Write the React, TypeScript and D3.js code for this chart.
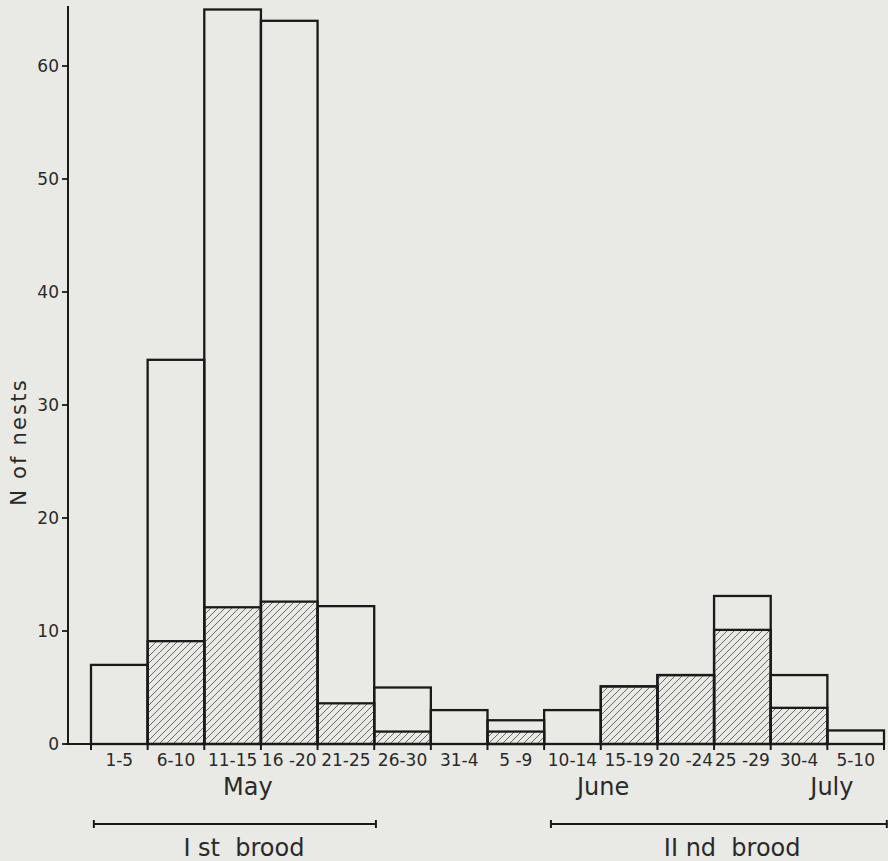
import React, { useEffect, useRef } from 'react';
import * as d3 from 'd3';

// five-day periods, May to July
const periods = ['1-5', '6-10', '11-15', '16 -20', '21-25', '26-30', '31-4', '5 -9', '10-14', '15-19', '20 -24', '25 -29', '30-4', '5-10'];
// all nests per period (open bar)
const totalNests = [7, 34, 65, 64, 12.2, 5, 3, 2.1, 3, 5.1, 6.1, 13.1, 6.1, 1.2];
// hatched part of each bar
const hatchedNests = [0, 9.1, 12.1, 12.6, 3.6, 1.1, 0, 1.1, 0, 5.1, 6.1, 10.1, 3.2, 0];

const yTicks = [0, 10, 20, 30, 40, 50, 60];

// month labels, position in period units from the left edge of the first bar
const months = [
  { label: 'May', at: 2.77 },
  { label: 'June', at: 9.04 },
  { label: 'July', at: 13.08 },
];

// brood spans, in period units
const broods = [
  { label: 'I st  brood', from: 0.05, to: 5.03, at: 2.7 },
  { label: 'II nd  brood', from: 8.12, to: 14.05, at: 11.32 },
];

const W = 888;
const H = 861;
const ink = '#1a1a1a';
const font = '"DejaVu Sans", sans-serif';

export default function App() {
  const ref = useRef<SVGSVGElement>(null);

  useEffect(() => {
    const svg = d3.select(ref.current);
    svg.selectAll('*').remove();

    const left = 91, right = 884, base = 744, top60 = 66, axisX = 68;

    const x = d3.scaleBand<string>().domain(periods).range([left, right]).padding(0);
    const xPos = d3.scaleLinear().domain([0, periods.length]).range([left, right]);
    const y = d3.scaleLinear().domain([0, 60]).range([base, top60]);

    svg.append('rect').attr('width', W).attr('height', H).attr('fill', '#e9e9e6');

    const defs = svg.append('defs');
    const pat = defs.append('pattern')
      .attr('id', 'hatch')
      .attr('patternUnits', 'userSpaceOnUse')
      .attr('width', 7)
      .attr('height', 7);
    pat.append('path')
      .attr('d', 'M-1,1 l2,-2 M0,7 l7,-7 M6,8 l2,-2')
      .attr('stroke', '#595959')
      .attr('stroke-width', 0.9);

    // y axis
    const g = svg.append('g');
    g.append('line')
      .attr('x1', axisX).attr('x2', axisX)
      .attr('y1', y(0)).attr('y2', y(65.3))
      .attr('stroke', ink).attr('stroke-width', 2);
    g.selectAll('.yt').data(yTicks).enter().append('line')
      .attr('x1', axisX - 6).attr('x2', axisX)
      .attr('y1', d => y(d)).attr('y2', d => y(d))
      .attr('stroke', ink).attr('stroke-width', 1.8);
    g.selectAll('.yl').data(yTicks).enter().append('text')
      .attr('x', axisX - 9).attr('y', d => y(d))
      .attr('dy', '0.36em')
      .attr('text-anchor', 'end')
      .style('font-family', font).style('font-size', '17px').style('fill', '#2a2a2a')
      .text(d => d);

    svg.append('text')
      .attr('transform', `translate(26, 442) rotate(-90)`)
      .attr('text-anchor', 'middle')
      .style('font-family', font).style('font-size', '21px').style('letter-spacing', '2.2px').style('fill', '#2a2a2a')
      .text('N of nests');

    // bars
    const bars = svg.append('g');
    bars.selectAll('.tot').data(periods).enter().append('rect')
      .attr('x', d => x(d)!)
      .attr('y', (d, i) => y(totalNests[i]))
      .attr('width', x.bandwidth())
      .attr('height', (d, i) => y(0) - y(totalNests[i]))
      .attr('fill', 'none')
      .attr('stroke', ink).attr('stroke-width', 2.3);
    bars.selectAll('.hat').data(periods.filter((d, i) => hatchedNests[i] > 0)).enter().append('rect')
      .attr('x', d => x(d)!)
      .attr('y', d => y(hatchedNests[periods.indexOf(d)]))
      .attr('width', x.bandwidth())
      .attr('height', d => y(0) - y(hatchedNests[periods.indexOf(d)]))
      .attr('fill', 'url(#hatch)')
      .attr('stroke', ink).attr('stroke-width', 2.3);

    // baseline and bin edge ticks
    svg.append('line')
      .attr('x1', axisX - 3).attr('x2', right)
      .attr('y1', base).attr('y2', base)
      .attr('stroke', ink).attr('stroke-width', 2);
    svg.selectAll('.xt').data(d3.range(periods.length + 1)).enter().append('line')
      .attr('x1', d => xPos(d)).attr('x2', d => xPos(d))
      .attr('y1', base).attr('y2', base + 6)
      .attr('stroke', ink).attr('stroke-width', 2);
    svg.selectAll('.xl').data(periods).enter().append('text')
      .attr('x', d => x(d)! + x.bandwidth() / 2)
      .attr('y', base + 22)
      .attr('text-anchor', 'middle')
      .style('font-family', font).style('font-size', '17px').style('fill', '#2a2a2a')
      .text(d => d);

    svg.selectAll('.month').data(months).enter().append('text')
      .attr('x', d => xPos(d.at))
      .attr('y', 795)
      .attr('text-anchor', 'middle')
      .style('font-family', font).style('font-size', '24px').style('fill', '#2a2a2a')
      .text(d => d.label);

    const br = svg.selectAll('.brood').data(broods).enter().append('g');
    br.append('line')
      .attr('x1', d => xPos(d.from)).attr('x2', d => xPos(d.to))
      .attr('y1', 824).attr('y2', 824)
      .attr('stroke', ink).attr('stroke-width', 2);
    br.append('line')
      .attr('x1', d => xPos(d.from)).attr('x2', d => xPos(d.from))
      .attr('y1', 820).attr('y2', 828)
      .attr('stroke', ink).attr('stroke-width', 2);
    br.append('line')
      .attr('x1', d => xPos(d.to)).attr('x2', d => xPos(d.to))
      .attr('y1', 820).attr('y2', 828)
      .attr('stroke', ink).attr('stroke-width', 2);
    br.append('text')
      .attr('x', d => xPos(d.at))
      .attr('y', 856)
      .attr('text-anchor', 'middle')
      .style('font-family', font).style('font-size', '24px').style('fill', '#2a2a2a')
      .style('white-space', 'pre')
      .text(d => d.label);
  }, []);

  return (
    <svg ref={ref} width={W} height={H} style={{ position: 'absolute', left: 0, top: 0 }} />
  );
}
